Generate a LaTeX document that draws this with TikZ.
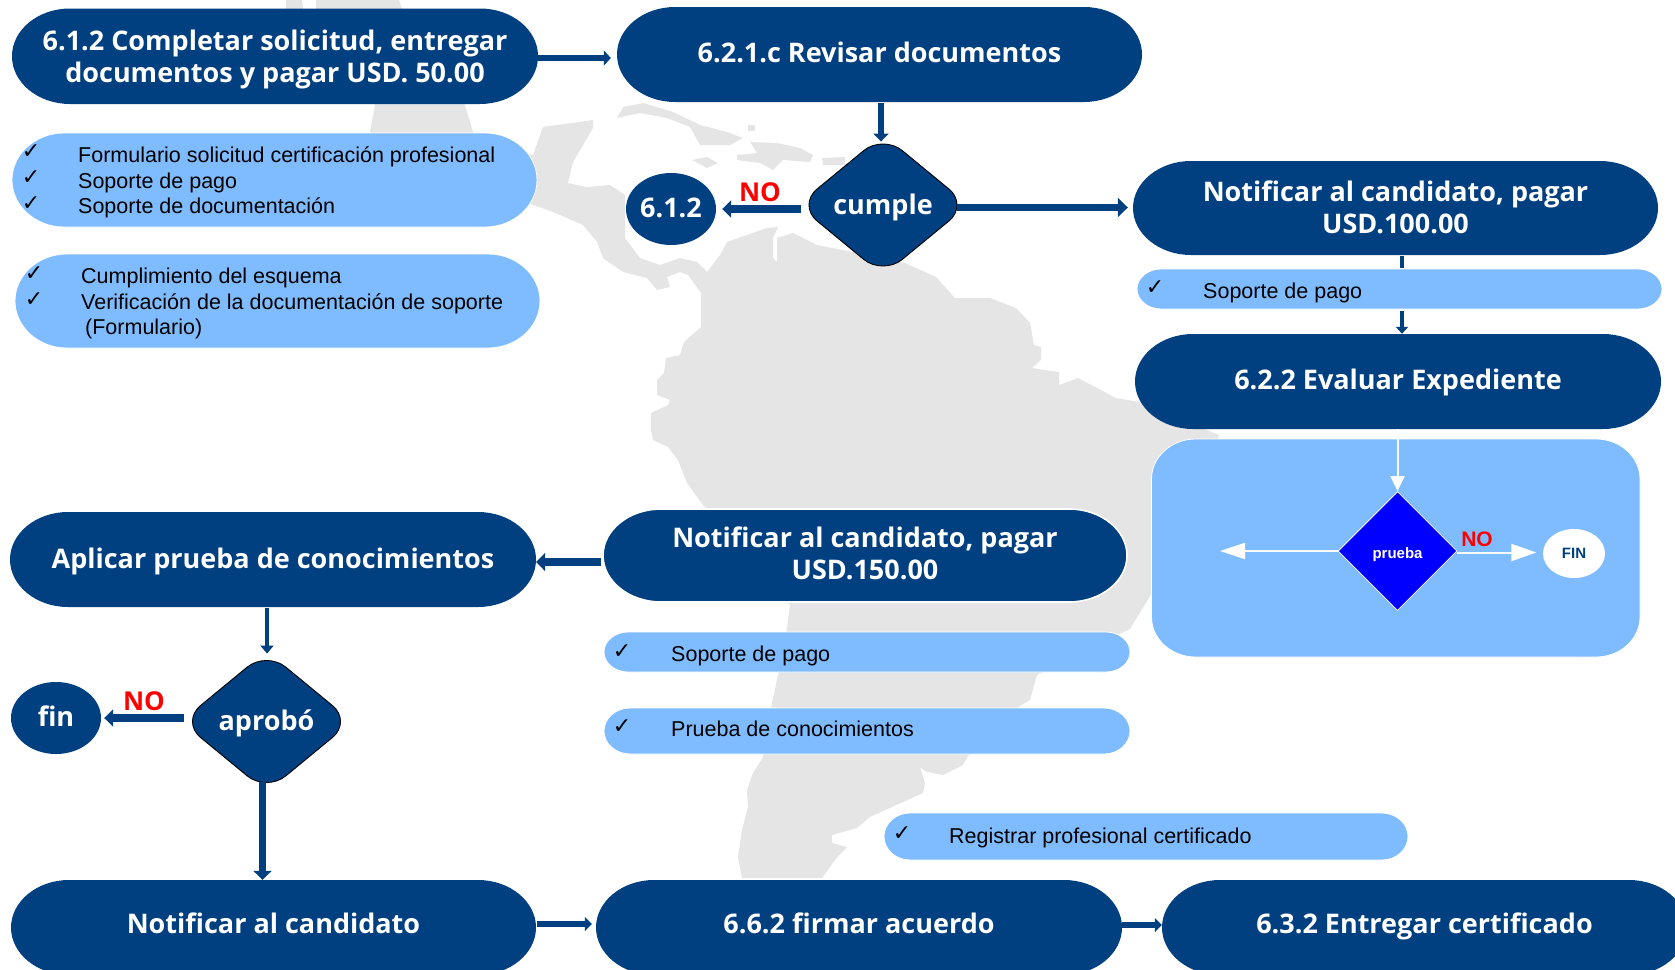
\documentclass[tikz,border=0pt]{standalone}
\usepackage{fontspec}
\setmainfont{Liberation Sans}
\newfontfamily\headfont{Open Sans}
\newfontfamily\tickfont{DejaVu Sans}
\usetikzlibrary{arrows.meta,shapes.geometric}
\definecolor{navy}{HTML}{003F80}
\definecolor{sky}{HTML}{7FBCFF}
\definecolor{land}{HTML}{E5E5E5}
\definecolor{pure}{HTML}{0000FF}
\tikzset{
  headtext/.style={text=white,font=\headfont\fontsize{27}{32}\selectfont\bfseries,align=center},
  navybox/.style={rectangle,inner sep=0pt,headtext},
  plain/.style={rectangle,inner sep=0pt},
  navyfill/.style={fill=navy},
  haloed/.style={fill=navy,draw=white,line width=1.6pt},
  skyfill/.style={fill=sky,draw=white,line width=0.8pt},
  navydia/.style={diamond,fill=navy,draw=black,line width=0.9pt,inner sep=0pt,rounded corners=25pt,minimum width=171pt,minimum height=141pt,headtext,text height=24pt,text depth=6pt},
  navycirc/.style={ellipse,fill=navy,inner sep=0pt,minimum width=90pt,minimum height=72pt,headtext,text height=22pt,text depth=6pt},
  item/.style={anchor=base west,inner sep=0pt,font=\fontsize{21.5}{26}\selectfont,text=black},
  tick/.style={anchor=center,inner sep=0pt,font=\tickfont\fontsize{22}{24}\selectfont,text=black},
  notext/.style={text=red,inner sep=0pt,font=\headfont\fontsize{26}{30}\selectfont\bfseries},
  conn/.style={draw=navy,line width=#1},
  whitearrow/.style={draw=white,line width=2pt},
}
% \Pill{fill style}{x1}{y1}{x2}{y2}{rx}{ry}: rounded box with elliptical corners
\newcommand{\Pill}[7]{%
  \pgfmathsetmacro{\pa}{#2+#6}\pgfmathsetmacro{\pb}{#4-#6}%
  \pgfmathsetmacro{\pc}{#3+#7}\pgfmathsetmacro{\pd}{#5-#7}%
  \pgfmathsetmacro{\pe}{#2+0.45*#6}\pgfmathsetmacro{\pf}{#4-0.45*#6}%
  \pgfmathsetmacro{\pg}{#3+0.45*#7}\pgfmathsetmacro{\ph}{#5-0.45*#7}%
  \path[#1] (\pa,#3) -- (\pb,#3) .. controls (\pf,#3) and (#4,\pg) .. (#4,\pc) -- (#4,\pd)
    .. controls (#4,\ph) and (\pf,#5) .. (\pb,#5) -- (\pa,#5)
    .. controls (\pe,#5) and (#2,\ph) .. (#2,\pd) -- (#2,\pc)
    .. controls (#2,\pg) and (\pe,#3) .. (\pa,#3) -- cycle;}
\newcommand{\BoxAt}[6]{\node[#1,minimum width={#4-#2},minimum height={#5-#3}] (#6) at ({(#2+#4)/2},{(#3+#5)/2})}
\begin{document}
\begin{tikzpicture}[x=1pt,y=-1pt]
\useasboundingbox (0,0) rectangle (1675,969);
\clip (0,0) rectangle (1675,969);
% map
\fill[land] (543,127)--(593,120)--(593,128)--(583,145)--(573,162)--(568,183)--(587,187)--(610,185)--(625,195)--(625,238)--(640,258)--(660,265)--(680,258)--(697,262)--(707,272)--(720,255)--(727,242)--(767,228)--(778,227)--(773,238)--(773,258)--(777,262)--(777,238)--(793,233)--(817,245)--(853,252)--(905,263)--(936,277)--(955,298)--(990,298)--(1016,308)--(1030,323)--(1034,345)--(1041,347)--(1041,360)--(1032,368)--(1059,372)--(1059,385)--(1078,378)--(1116,398)--(1139,402)--(1219,435)--(1200,500)--(1149,598)--(1130,629)--(1037,675)--(1030,700)--(1020,706)--(968,756)--(963,765)--(943,775)--(927,772)--(920,767)--(925,783)--(923,793)--(870,817)--(857,828)--(832,835)--(832,843)--(847,847)--(835,860)--(822,878)--(742,878)--(738,857)--(742,830)--(748,807)--(747,790)--(753,773)--(763,757)--(772,703)--(778,675)--(787,628)--(790,605)--(703,505)--(687,483)--(678,460)--(668,447)--(653,440)--(651,430)--(651,413)--(668,405)--(670,400)--(657,395)--(657,380)--(664,373)--(666,358)--(680,355)--(684,342)--(701,327)--(701,293)--(688,275)--(680,272)--(667,277)--(670,287)--(657,290)--(647,278)--(623,272)--(603,258)--(597,242)--(583,225)--(553,212)--(533,205)--(500,190)--(370,132)--(375,105)--(286,8)--(286,0)--(302,0)--(303,9)--(316,9)--(316,0)--(399,0)--(402,9)--(465,105)--(473,132)--(480,140)--(533,155)--cycle;
\fill[land] (617,118)--(623,107)--(643,103)--(673,112)--(700,125)--(727,132)--(743,138)--(730,145)--(700,145)--(690,127)--(667,118)--(640,113)--cycle;
\fill[land] (750,142)--(777,143)--(800,148)--(813,155)--(810,162)--(783,160)--(773,170)--(760,163)--(737,160)--(737,155)--(757,153)--cycle;
\fill[land] (692,160)--(707,157)--(718,163)--(707,168)--cycle;
\fill[land] (822,158)--(845,157)--(845,165)--(823,165)--cycle;
\fill[land] (748,125) rectangle (755,131);
% box shapes
\Pill{navyfill}{12}{8.5}{538}{104}{58}{47.5}
\Pill{navyfill}{617}{7}{1142}{102}{58}{47.5}
\Pill{navyfill}{1133}{161}{1658}{255}{58}{47}
\Pill{navyfill}{1135}{334}{1661}{429}{58}{47.5}
\Pill{haloed}{603}{509}{1127}{602}{58}{46.5}
\Pill{navyfill}{10}{512}{536}{607}{58}{47.5}
\Pill{navyfill}{11}{880}{536}{975}{58}{47.5}
\Pill{navyfill}{596}{880}{1122}{975}{58}{47.5}
\Pill{navyfill}{1162}{880}{1687}{975}{58}{47.5}
\Pill{skyfill}{12}{133}{537}{227}{52}{47}
\Pill{skyfill}{15}{254}{540}{348}{52}{47}
\Pill{skyfill}{1137}{269}{1662}{309}{24}{20}
\Pill{skyfill}{604}{632}{1130}{672}{24}{20}
\Pill{skyfill}{604}{708}{1130}{754}{26}{23}
\Pill{skyfill}{884}{813}{1408}{860}{26}{23.5}
\Pill{skyfill}{1151.5}{439}{1640}{657}{44}{40}
% box nodes
\BoxAt{navybox}{12}{11.5}{538}{107}{a} {6.1.2 Completar solicitud, entregar\\documentos y pagar USD. 50.00};
\BoxAt{navybox,text height=22pt,text depth=6pt}{617}{7}{1142}{102}{b} {6.2.1.c Revisar documentos};
\BoxAt{navybox}{1133}{160}{1658}{254}{c} {Notificar al candidato, pagar\\USD.100.00};
\BoxAt{navybox,text height=21pt,text depth=6pt}{1135}{334}{1661}{429}{d} {6.2.2 Evaluar Expediente};
\BoxAt{navybox}{603}{507}{1127}{600}{e} {Notificar al candidato, pagar\\USD.150.00};
\BoxAt{navybox,text height=23pt,text depth=6pt}{10}{512}{536}{607}{f} {Aplicar prueba de conocimientos};
\BoxAt{navybox,text height=17pt,text depth=6pt}{11}{880}{536}{975}{g} {Notificar al candidato};
\BoxAt{navybox,text height=17pt,text depth=6pt}{596}{880}{1122}{975}{h} {6.6.2 firmar acuerdo};
\BoxAt{navybox,text height=17pt,text depth=6pt}{1162}{880}{1687}{975}{i} {6.3.2 Entregar certificado};
\BoxAt{plain}{12}{133}{537}{227}{la} {};
\BoxAt{plain}{15}{254}{540}{348}{lb} {};
\BoxAt{plain}{1137}{269}{1662}{309}{lc} {};
\BoxAt{plain}{604}{632}{1130}{672}{ld} {};
\BoxAt{plain}{604}{708}{1130}{754}{le} {};
\BoxAt{plain}{884}{813}{1408}{860}{lf} {};
\BoxAt{plain}{1151.5}{439}{1640}{657}{lg} {};
% items
\node[tick] (t1) at (31,152) {✓}; \node[item] (x1) at (78,162.5) {Formulario solicitud certificación profesional};
\node[tick] (t2) at (31,178) {✓}; \node[item] (x2) at (78,188) {Soporte de pago};
\node[tick] (t3) at (31,204) {✓}; \node[item] (x3) at (78,213) {Soporte de documentación};
\node[tick] (t4) at (34,274) {✓}; \node[item] (x4) at (81,283) {Cumplimiento del esquema};
\node[tick] (t5) at (34,300) {✓}; \node[item] (x5) at (81,309) {Verificación de la documentación de soporte};
\node[item] (x6) at (85,334.5) {(Formulario)};
\node[tick] (t7) at (1155,288) {✓}; \node[item] (x7) at (1203,298) {Soporte de pago};
\node[tick] (t8) at (622,652) {✓}; \node[item] (x8) at (671,661) {Soporte de pago};
\node[tick] (t9) at (622,727) {✓}; \node[item] (x9) at (671,736) {Prueba de conocimientos};
\node[tick] (t10) at (902,834) {✓}; \node[item] (x10) at (949,843) {Registrar profesional certificado};
% decisions
\node[navydia] (cumple) at (883,205) {cumple};
\node[navydia] (aprobo) at (266.5,721.5) {aprobó};
\node[navycirc] (c612) at (671,209) {6.1.2};
\node[navycirc] (fin) at (56,718) {fin};
\node[notext] (no1) at (760,192) {NO};
\node[notext] (no2) at (144,701) {NO};
\node[diamond,fill=pure,draw=white,line width=0.8pt,inner sep=0pt,minimum width=119pt,minimum height=119pt,text=white,font=\fontsize{15}{18}\selectfont\bfseries,text height=18pt,text depth=4pt] (prueba) at (1397.5,551) {prueba};
\node[ellipse,fill=white,inner sep=0pt,minimum width=62pt,minimum height=49pt,text=navy,font=\fontsize{15}{18}\selectfont\bfseries] (finw) at (1574,553.5) {FIN};
\node[text=red,inner sep=0pt,font=\fontsize{21}{24}\selectfont\bfseries] (no3) at (1477,539) {NO};
\coordinate (outl) at (1220,551);
% connectors
\draw[conn=5.5pt,-{Triangle[length=7pt,width=15pt]}] ([yshift=1.25pt]a.east) -- ([xshift=-6pt,yshift=-3.5pt]b.west);
\draw[conn=6pt,-{Triangle[length=8pt,width=15pt]}] ([xshift=1.5pt,yshift=-1pt]b.south) -- ([xshift=-2pt,yshift=-7.5pt]cumple.north);
\draw[conn=7.5pt,-{Triangle[length=9pt,width=17pt]}] ([xshift=3.5pt,yshift=-4pt]cumple.west) -- ([xshift=6pt]c612.east);
\draw[conn=7.5pt,-{Triangle[length=10pt,width=19pt]}] ([yshift=-2.5pt,xshift=-11.5pt]cumple.east) -- ([xshift=-5pt,yshift=-0.5pt]c.west);
\draw[conn=4.5pt] ([xshift=6.5pt,yshift=-2pt]c.south) -- ([xshift=2.5pt,yshift=1pt]lc.north);
\draw[conn=4.5pt,-{Triangle[length=7pt,width=12pt]}] ([xshift=2.5pt,yshift=-2pt]lc.south) -- ([xshift=4pt]d.north);
\draw[conn=7.5pt,-{Triangle[length=9pt,width=18pt]}] ([xshift=-2pt,yshift=-8.5pt]e.west) -- ([yshift=-2.5pt]f.east);
\draw[conn=4.5pt,-{Triangle[length=8pt,width=13pt]}] ([xshift=-6pt,yshift=-1pt]f.south) -- ([xshift=0.5pt,yshift=-3pt]aprobo.north);
\draw[conn=7.5pt,-{Triangle[length=9pt,width=17pt]}] ([xshift=3pt,yshift=3.5pt]aprobo.west) -- ([xshift=3pt]fin.east);
\draw[conn=7pt,-{Triangle[length=9pt,width=18pt]}] ([xshift=-4pt,yshift=10pt]aprobo.south) -- ([xshift=-11pt]g.north);
\draw[conn=6pt,-{Triangle[length=7pt,width=14pt]}] ([xshift=1pt,yshift=3.5pt]g.east) -- ([xshift=-4pt,yshift=3.5pt]h.west);
\draw[conn=6pt,-{Triangle[length=7pt,width=14pt]}] ([yshift=2.5pt]h.east) -- ([yshift=2.5pt]i.west);
\draw[whitearrow,-{Triangle[length=15pt,width=14pt]}] ([xshift=-0.5pt]d.south) -- (prueba.north);
\draw[whitearrow,-{Triangle[length=25pt,width=16pt]}] (prueba.west) -- (outl);
\draw[whitearrow,-{Triangle[length=25pt,width=17pt]}] ([yshift=-1.5pt]prueba.east) -- ([xshift=-6.5pt,yshift=1pt]finw.west);
\end{tikzpicture}
\end{document}
